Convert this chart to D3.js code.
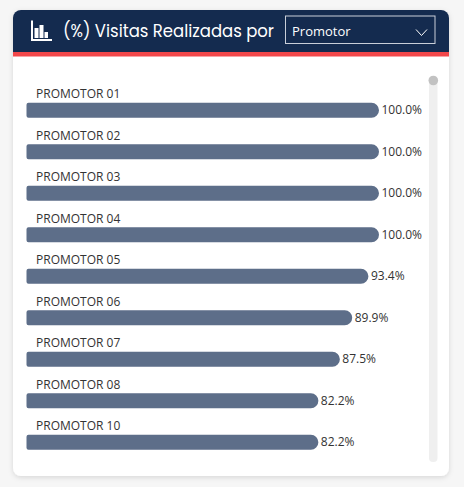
<!DOCTYPE html>
<html>
<head>
<meta charset="utf-8">
<script src="https://cdn.jsdelivr.net/npm/d3@7"></script>
<style>
  html, body { margin: 0; padding: 0; background: #f6f6f6; }
  svg { display: block; }
</style>
</head>
<body>
<div id="chart"></div>
<script>
// (%) Visitas Realizadas por Promotor — horizontal bar list card
var categories = ["PROMOTOR 01", "PROMOTOR 02", "PROMOTOR 03", "PROMOTOR 04", "PROMOTOR 05",
                  "PROMOTOR 06", "PROMOTOR 07", "PROMOTOR 08", "PROMOTOR 10"];
// data labels shown next to each bar
var values = [100.0, 100.0, 100.0, 100.0, 93.4, 89.9, 87.5, 82.2, 82.2];
// bar lengths as drawn (relative to the longest bar)
var barShare = [100.0, 100.0, 100.0, 100.0, 97.0, 92.4, 88.9, 82.8, 82.8];
var titleText = "(%) Visitas Realizadas por";
var dropdownText = "Promotor";

function renderCard(containerId) {
    var totalW = 464, totalH = 487;
    var card = { x: 13, y: 10, w: 436, h: 466, r: 8 };
    var headerH = 42;

    var svg = d3.select("#" + containerId).append("svg")
        .attr("width", totalW)
        .attr("height", totalH);

    var defs = svg.append("defs");
    var shadow = defs.append("filter").attr("id", "cardShadow")
        .attr("x", "-10%").attr("y", "-10%").attr("width", "120%").attr("height", "120%");
    shadow.append("feDropShadow")
        .attr("dx", 0).attr("dy", 1.5)
        .attr("stdDeviation", 2.5)
        .attr("flood-color", "#000")
        .attr("flood-opacity", 0.13);

    defs.append("clipPath").attr("id", "cardClip")
        .append("rect")
        .attr("x", card.x).attr("y", card.y)
        .attr("width", card.w).attr("height", card.h)
        .attr("rx", card.r);

    // --- Card body ---
    svg.append("rect")
        .attr("x", card.x).attr("y", card.y)
        .attr("width", card.w).attr("height", card.h)
        .attr("rx", card.r)
        .attr("fill", "#ffffff")
        .attr("filter", "url(#cardShadow)");

    var head = svg.append("g").attr("clip-path", "url(#cardClip)");
    head.append("rect")
        .attr("x", card.x).attr("y", card.y)
        .attr("width", card.w).attr("height", headerH)
        .attr("fill", "#142b4f");
    head.append("rect")
        .attr("x", card.x).attr("y", card.y + headerH)
        .attr("width", card.w).attr("height", 4.5)
        .attr("fill", "#f2474a");

    // --- Header icon (bar chart glyph) ---
    var icon = svg.append("g").attr("fill", "#ffffff");
    icon.append("rect").attr("x", 31).attr("y", 20.5).attr("width", 2).attr("height", 20.5);
    icon.append("rect").attr("x", 31).attr("y", 39).attr("width", 21).attr("height", 2);
    icon.append("rect").attr("x", 34.5).attr("y", 28).attr("width", 4).attr("height", 10);
    icon.append("rect").attr("x", 39.5).attr("y", 25).attr("width", 4).attr("height", 13);
    icon.append("rect").attr("x", 44.5).attr("y", 32).attr("width", 3.5).attr("height", 6);

    // --- Title ---
    svg.append("text")
        .attr("x", 63)
        .attr("y", 37)
        .attr("textLength", 211)
        .attr("lengthAdjust", "spacingAndGlyphs")
        .style("font-family", "'Poppins', 'Open Sans', sans-serif")
        .style("font-size", "17px")
        .style("fill", "#ffffff")
        .text(titleText);

    // --- Dropdown ---
    svg.append("rect")
        .attr("x", 285.5).attr("y", 16)
        .attr("width", 149.5).attr("height", 27.5)
        .attr("fill", "none")
        .attr("stroke", "#c9cfd9")
        .attr("stroke-width", 1);
    svg.append("text")
        .attr("x", 292)
        .attr("y", 36)
        .style("font-family", "'Segoe UI', 'Open Sans', sans-serif")
        .style("font-size", "13px")
        .style("fill", "#ffffff")
        .text(dropdownText);
    svg.append("path")
        .attr("d", "M416,29.5 L421.5,35.5 L427,29.5")
        .attr("fill", "none")
        .attr("stroke", "#ffffff")
        .attr("stroke-width", 1);

    // --- Scales ---
    var x = d3.scaleLinear()
        .domain([0, 100])
        .range([26.5, 379]);

    var y = d3.scaleBand()
        .domain(categories)
        .range([87, 87 + categories.length * 41.5])
        .paddingInner(0)
        .paddingOuter(0);

    var barH = 15, barOffset = 15.7;

    // --- Scrollbar ---
    svg.append("rect")
        .attr("x", 429).attr("y", 76)
        .attr("width", 8.5).attr("height", 386)
        .attr("rx", 4)
        .attr("fill", "#efefef");
    svg.append("circle")
        .attr("cx", 433.3).attr("cy", 80.5)
        .attr("r", 4.8)
        .attr("fill", "#c2c2c2");

    // --- Rows ---
    var rows = svg.append("g").selectAll("g.row")
        .data(categories.map(function(c, i) {
            return { name: c, value: values[i], share: barShare[i] };
        }))
        .enter().append("g")
        .attr("class", "row")
        .attr("transform", function(d) { return "translate(0," + y(d.name) + ")"; });

    rows.append("text")
        .attr("x", 36)
        .attr("y", 11.3)
        .style("font-family", "'Segoe UI', 'Open Sans', sans-serif")
        .style("font-size", "12px")
        .style("fill", "#333333")
        .text(function(d) { return d.name; });

    // bar with small left corners and fully rounded right end
    rows.append("path")
        .attr("fill", "#5d6e89")
        .attr("d", function(d) {
            var x0 = x(0), x1 = x(d.share), t = barOffset, b = barOffset + barH;
            var rl = 2, rr = barH / 2;
            var p = d3.path();
            p.moveTo(x0 + rl, t);
            p.lineTo(x1 - rr, t);
            p.arc(x1 - rr, t + rr, rr, -Math.PI / 2, Math.PI / 2);
            p.lineTo(x0 + rl, b);
            p.arcTo(x0, b, x0, b - rl, rl);
            p.lineTo(x0, t + rl);
            p.arcTo(x0, t, x0 + rl, t, rl);
            p.closePath();
            return p.toString();
        });

    rows.append("text")
        .attr("x", function(d) { return x(d.share) + 2.5; })
        .attr("y", barOffset + barH / 2 + 3.8)
        .style("font-family", "'Segoe UI', 'Open Sans', sans-serif")
        .style("font-size", "12px")
        .style("fill", "#333333")
        .text(function(d) { return d3.format(".1f")(d.value) + "%"; });
}

renderCard("chart");
</script>
</body>
</html>
